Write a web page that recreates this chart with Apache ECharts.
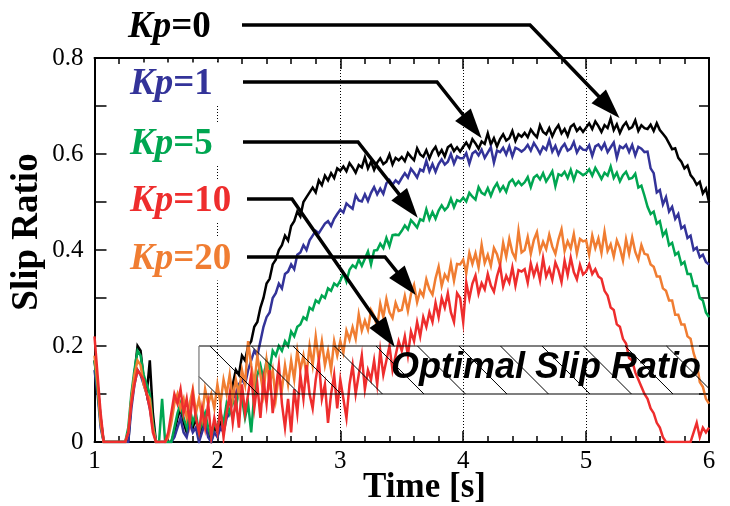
<!DOCTYPE html>
<html><head><meta charset="utf-8">
<script src="https://cdn.jsdelivr.net/npm/echarts@6/dist/echarts.min.js"></script>
<style>html,body{margin:0;padding:0;background:#fff}#c{width:730px;height:506px}</style>
</head><body><div id="c"></div>
<script>
// ---------------- data ----------------
const time = [
1.000,1.025,1.050,1.075,1.100,1.125,1.150,1.175,1.200,1.225,1.250,1.275,1.300,1.325,1.350,1.375,1.400,1.425,1.450,1.475,
1.500,1.525,1.550,1.575,1.600,1.625,1.650,1.675,1.700,1.725,1.750,1.775,1.800,1.825,1.850,1.875,1.900,1.925,1.950,1.975,
2.000,2.025,2.050,2.075,2.100,2.125,2.150,2.175,2.200,2.225,2.250,2.275,2.300,2.325,2.350,2.375,2.400,2.425,2.450,2.475,
2.500,2.525,2.550,2.575,2.600,2.625,2.650,2.675,2.700,2.725,2.750,2.775,2.800,2.825,2.850,2.875,2.900,2.925,2.950,2.975,
3.000,3.025,3.050,3.075,3.100,3.125,3.150,3.175,3.200,3.225,3.250,3.275,3.300,3.325,3.350,3.375,3.400,3.425,3.450,3.475,
3.500,3.525,3.550,3.575,3.600,3.625,3.650,3.675,3.700,3.725,3.750,3.775,3.800,3.825,3.850,3.875,3.900,3.925,3.950,3.975,
4.000,4.025,4.050,4.075,4.100,4.125,4.150,4.175,4.200,4.225,4.250,4.275,4.300,4.325,4.350,4.375,4.400,4.425,4.450,4.475,
4.500,4.525,4.550,4.575,4.600,4.625,4.650,4.675,4.700,4.725,4.750,4.775,4.800,4.825,4.850,4.875,4.900,4.925,4.950,4.975,
5.000,5.025,5.050,5.075,5.100,5.125,5.150,5.175,5.200,5.225,5.250,5.275,5.300,5.325,5.350,5.375,5.400,5.425,5.450,5.475,
5.500,5.525,5.550,5.575,5.600,5.625,5.650,5.675,5.700,5.725,5.750,5.775,5.800,5.825,5.850,5.875,5.900,5.925,5.950,5.975,
6.000];

const kp0 = [
0.17,0.12,0.05,0.00,0,0,0,0,0,0,0,0,0.09,0.14,0.20,0.19,0.13,0.10,0.17,0.06,
0,0,0,0,0,0,0.02,0.05,0.07,0.04,0.02,0.06,0.03,0.05,0.01,0.03,0.05,0.02,0.00,0.03,
0.02,0.04,0.03,0.06,0.09,0.12,0.15,0.14,0.18,0.17,0.20,0.21,0.24,0.25,0.28,0.30,0.33,0.34,0.37,0.38,
0.40,0.41,0.43,0.42,0.45,0.46,0.48,0.47,0.50,0.51,0.52,0.53,0.52,0.545,0.535,0.555,0.545,0.56,0.55,0.57,
0.565,0.574,0.564,0.581,0.572,0.561,0.577,0.572,0.593,0.570,0.584,0.567,0.582,0.591,0.579,0.584,0.599,0.578,0.592,0.587,
0.594,0.585,0.602,0.594,0.587,0.612,0.599,0.594,0.608,0.591,0.606,0.615,0.598,0.608,0.595,0.614,0.619,0.606,0.614,0.605,
0.615,0.624,0.613,0.631,0.622,0.611,0.626,0.621,0.643,0.620,0.633,0.616,0.631,0.641,0.628,0.633,0.648,0.627,0.641,0.636,
0.644,0.635,0.651,0.642,0.635,0.660,0.646,0.641,0.654,0.637,0.651,0.660,0.643,0.652,0.638,0.657,0.662,0.648,0.655,0.646,
0.655,0.664,0.652,0.668,0.658,0.646,0.660,0.654,0.674,0.650,0.662,0.644,0.658,0.666,0.652,0.656,0.670,0.648,0.660,0.654,
0.652,0.661,0.648,0.664,0.650,0.642,0.634,0.622,0.610,0.612,0.592,0.584,0.570,0.576,0.556,0.548,0.536,0.542,0.518,0.528,
0.50];

const kp1 = [
0.15,0.10,0.03,0,0,0,0,0,0,0,0,0,0.07,0.12,0.15,0.14,0.12,0.10,0.07,0.03,
0,0,0,0,0,0,0.01,0.03,0.05,0.02,0.01,0.04,0.02,0.03,0.00,0.02,0.04,0.01,0.00,0.02,
0.01,0.03,0.02,0.05,0.06,0.09,0.10,0.12,0.13,0.12,0.15,0.17,0.19,0.18,0.21,0.24,0.26,0.27,0.30,0.31,
0.33,0.32,0.35,0.355,0.37,0.36,0.39,0.395,0.41,0.40,0.42,0.43,0.44,0.435,0.445,0.455,0.46,0.45,0.465,0.475,
0.484,0.478,0.497,0.491,0.486,0.514,0.503,0.501,0.516,0.502,0.519,0.531,0.516,0.528,0.517,0.539,0.546,0.536,0.545,0.539,
0.550,0.560,0.551,0.569,0.561,0.551,0.568,0.564,0.586,0.564,0.579,0.563,0.579,0.589,0.578,0.584,0.600,0.580,0.595,0.591,
0.591,0.602,0.580,0.601,0.606,0.597,0.609,0.592,0.603,0.614,0.582,0.607,0.604,0.613,0.599,0.616,0.595,0.613,0.610,0.605,
0.610,0.619,0.607,0.623,0.613,0.601,0.615,0.609,0.629,0.605,0.617,0.599,0.613,0.621,0.607,0.611,0.625,0.603,0.615,0.609,
0.608,0.618,0.596,0.616,0.620,0.610,0.622,0.604,0.614,0.624,0.592,0.616,0.612,0.619,0.604,0.619,0.597,0.615,0.611,0.604,
0.605,0.57,0.56,0.52,0.525,0.495,0.51,0.48,0.49,0.465,0.475,0.445,0.45,0.425,0.43,0.40,0.405,0.385,0.39,0.375,
0.37];

const kp5 = [
0.17,0.11,0.04,0,0,0,0,0,0,0,0,0.03,0.10,0.15,0.19,0.18,0.14,0.12,0.10,0.04,
0,0,0.09,0,0,0,0.03,0.06,0.08,0.05,0.03,0.07,0.04,0.06,0.02,0.04,0.06,0.03,0.01,0.04,
0.03,0.06,0.04,0.08,0.06,0.09,0.07,0.11,0.09,0.05,0.08,0.02,0.10,0.14,0.16,0.13,0.17,0.15,0.19,0.18,
0.20,0.19,0.21,0.20,0.23,0.22,0.24,0.245,0.26,0.255,0.28,0.275,0.295,0.29,0.305,0.30,0.32,0.315,0.33,0.325,
0.336,0.351,0.334,0.359,0.368,0.363,0.380,0.367,0.382,0.397,0.370,0.399,0.400,0.413,0.404,0.425,0.408,0.431,0.432,0.431,
0.440,0.451,0.443,0.462,0.455,0.447,0.464,0.461,0.485,0.464,0.479,0.465,0.482,0.493,0.483,0.490,0.507,0.489,0.504,0.501,
0.509,0.501,0.519,0.511,0.505,0.531,0.519,0.515,0.529,0.513,0.529,0.539,0.523,0.533,0.521,0.541,0.547,0.535,0.543,0.535,
0.541,0.552,0.531,0.551,0.556,0.547,0.560,0.543,0.553,0.564,0.533,0.558,0.555,0.563,0.550,0.567,0.546,0.565,0.561,0.556,
0.560,0.568,0.555,0.571,0.560,0.548,0.561,0.555,0.574,0.550,0.561,0.543,0.556,0.563,0.548,0.550,0.559,0.530,0.534,0.513,
0.49,0.475,0.48,0.455,0.46,0.43,0.44,0.41,0.415,0.39,0.395,0.37,0.375,0.35,0.35,0.325,0.325,0.30,0.295,0.27,
0.26];

const kp10 = [
0.22,0.14,0.06,0,0,0,0,0,0,0,0,0.02,0.08,0.12,0.15,0.14,0.13,0.10,0.07,0.02,
0,0,0,0,0.02,0.06,0.10,0.08,0.11,0.06,0.09,0.04,0.10,0.05,0.02,0.07,0.03,0.08,0.01,0.05,
0.02,0.07,0.01,0.06,0.10,0.04,0.09,0.03,0.12,0.06,0.10,0.14,0.07,0.12,0.05,0.13,0.08,0.15,0.06,0.11,
0.16,0.08,0.03,0.09,0.02,0.11,0.06,0.14,0.09,0.16,0.10,0.07,0.13,0.17,0.09,0.12,0.04,0.10,0.14,0.07,
0.13,0.09,0.05,0.12,0.16,0.10,0.14,0.18,0.11,0.15,0.13,0.17,0.12,0.19,0.14,0.17,0.20,0.15,0.18,0.21,
0.19,0.22,0.18,0.23,0.21,0.25,0.22,0.26,0.24,0.27,0.25,0.29,0.26,0.30,0.28,0.31,0.27,0.25,0.31,0.30,
0.250,0.332,0.299,0.330,0.347,0.309,0.331,0.318,0.350,0.326,0.313,0.345,0.367,0.324,0.346,0.332,0.364,0.326,0.358,0.355,
0.360,0.332,0.372,0.347,0.367,0.337,0.383,0.345,0.361,0.338,0.374,0.358,0.333,0.378,0.348,0.384,0.354,0.339,0.369,0.349,
0.355,0.37,0.35,0.36,0.345,0.34,0.315,0.305,0.28,0.275,0.245,0.24,0.215,0.205,0.175,0.17,0.145,0.13,0.115,0.10,
0.09,0.07,0.06,0.04,0.03,0.01,0,0,0,0,0,0,0,0,0,0.02,0.04,0.01,0.03,0.02,
0.03];

const kp20 = [
0.18,0.12,0.04,0,0,0,0,0,0,0,0,0.02,0.09,0.14,0.17,0.16,0.12,0.10,0.09,0.03,
0,0,0,0,0.01,0.04,0.08,0.10,0.07,0.09,0.05,0.08,0.11,0.06,0.09,0.05,0.11,0.08,0.10,0.07,
0.12,0.08,0.13,0.10,0.14,0.09,0.13,0.10,0.15,0.12,0.21,0.16,0.12,0.18,0.14,0.10,0.17,0.12,0.15,0.09,
0.14,0.11,0.16,0.12,0.17,0.13,0.19,0.15,0.18,0.14,0.20,0.16,0.22,0.17,0.21,0.16,0.19,0.15,0.21,0.18,
0.210,0.186,0.232,0.213,0.239,0.215,0.266,0.232,0.253,0.234,0.275,0.263,0.240,0.288,0.260,0.298,0.270,0.258,0.290,0.273,
0.275,0.304,0.273,0.308,0.327,0.291,0.315,0.304,0.339,0.318,0.307,0.341,0.365,0.325,0.349,0.338,0.372,0.336,0.371,0.370,
0.380,0.352,0.394,0.371,0.393,0.364,0.411,0.373,0.390,0.367,0.404,0.391,0.368,0.415,0.386,0.423,0.395,0.382,0.440,0.395,
0.400,0.427,0.392,0.421,0.437,0.397,0.417,0.402,0.432,0.407,0.392,0.422,0.443,0.398,0.418,0.403,0.433,0.393,0.423,0.418,
0.420,0.390,0.430,0.404,0.424,0.394,0.438,0.398,0.412,0.386,0.420,0.404,0.378,0.422,0.392,0.426,0.396,0.380,0.410,0.392,
0.39,0.37,0.365,0.345,0.345,0.32,0.315,0.295,0.295,0.265,0.265,0.245,0.245,0.22,0.215,0.185,0.165,0.125,0.115,0.09,
0.08];

const seriesNames = ['Kp=0','Kp=1','Kp=5','Kp=20','Kp=10'];
const seriesData  = [kp0, kp1, kp5, kp20, kp10];
const seriesColors = ['#000000','#333399','#00a651','#f07d32','#ee2d2d'];
const labelValues = ['0','1','5','10','20'];
const labelColors = ['#000000','#333399','#00a651','#ee2d2d','#f07d32'];
const xTicks = [1,2,3,4,5,6];
const yTicks = [0,0.2,0.4,0.6,0.8];
const optimalBand = [1.85, 6, 0.1, 0.2]; // x from, x to, y from, y to
const bandText = 'Optimal Slip Ratio';
// arrow tips in data units, for Kp=0,1,5,10,20
const arrowTips = [[5.272,0.675],[4.150,0.633],[3.630,0.467],[3.443,0.198],[3.614,0.306]];

// ---------------- chart ----------------
const serif = '"Liberation Serif","Times New Roman",serif';
const sans = '"Liberation Sans",Arial,sans-serif';
const chart = echarts.init(document.getElementById('c'), null, {renderer:'canvas'});
const pair = arr => time.map((t,i)=>[t, arr[i]]);

const axisLine = {show:true, onZero:false, lineStyle:{color:'#000', width:2}};
const tickStyle = {color:'#000', width:1.5};

const option = {
  animation:false,
  backgroundColor:'#fff',
  grid:{left:94.5, right:21, top:58, bottom:64, containLabel:false},
  xAxis:[
    {type:'value', min:xTicks[0], max:xTicks[xTicks.length-1], interval:1, position:'bottom',
     axisLine:axisLine,
     axisTick:{show:true, inside:true, length:11, lineStyle:tickStyle},
     minorTick:{show:true, splitNumber:5, length:6, lineStyle:tickStyle},
     axisLabel:{color:'#000', fontFamily:serif, fontSize:25, margin:7},
     splitLine:{show:true, lineStyle:{type:[1,2], color:'#000', width:1}}},
    {type:'value', min:xTicks[0], max:xTicks[xTicks.length-1], interval:1, position:'top',
     axisLine:axisLine,
     axisTick:{show:true, inside:true, length:11, lineStyle:tickStyle},
     minorTick:{show:true, splitNumber:5, length:6, lineStyle:tickStyle},
     axisLabel:{show:false}, splitLine:{show:false}}
  ],
  yAxis:[
    {type:'value', min:yTicks[0], max:yTicks[yTicks.length-1], interval:0.2, position:'left',
     axisLine:axisLine,
     axisTick:{show:true, inside:true, length:12, lineStyle:tickStyle},
     minorTick:{show:true, splitNumber:2, length:12, lineStyle:tickStyle},
     axisLabel:{color:'#000', fontFamily:serif, fontSize:25, margin:11,
       formatter:v => Math.abs(v)<1e-9 ? '0' : v.toFixed(1)},
     splitLine:{show:false}},
    {type:'value', min:yTicks[0], max:yTicks[yTicks.length-1], interval:0.2, position:'right',
     axisLine:axisLine,
     axisTick:{show:true, inside:true, length:10, lineStyle:tickStyle},
     minorTick:{show:true, splitNumber:2, length:10, lineStyle:tickStyle},
     axisLabel:{show:false}, splitLine:{show:false}}
  ],
  series: seriesData.map((arr,k)=>({
    name:seriesNames[k], type:'line', data:pair(arr), showSymbol:false, symbol:'none',
    xAxisIndex:0, yAxisIndex:0, z:2+k*0.01, silent:true,
    lineStyle:{color:seriesColors[k], width:2.5, join:'miter'}, clip:true
  })).concat([{
    type:'custom', name:'band', data:[optimalBand], z:5, silent:true, clip:false,
    renderItem:(params, api)=>{
      const tl = api.coord([api.value(0), api.value(3)]);
      const br = api.coord([api.value(1), api.value(2)]);
      const x0=tl[0], y0=tl[1], x1=br[0], y1=br[1], h=y1-y0;
      const children = [];
      const sp = 41.5;
      for (let a = x0 + 11 - sp; a < x1; a += sp) {
        let sx=a, sy=y0, ex=a+h, ey=y1;
        if (sx < x0) { sy = y0 + (x0-sx); sx = x0; }
        if (ex > x1) { ey = y1 - (ex-x1); ex = x1; }
        if (sx < ex) children.push({type:'line', shape:{x1:sx,y1:sy,x2:ex,y2:ey}, style:{stroke:'#000', lineWidth:1}});
      }
      children.push({type:'line', shape:{x1:x0,y1:y0,x2:x1,y2:y0}, style:{stroke:'#000', lineWidth:1.2}});
      children.push({type:'line', shape:{x1:x0,y1:y1,x2:x1,y2:y1}, style:{stroke:'#000', lineWidth:1.2}});
      children.push({type:'line', shape:{x1:x0,y1:y0,x2:x0,y2:y1}, style:{stroke:'#777', lineWidth:1.2}});
      return {type:'group', children};
    }
  }])
};
chart.setOption(option);

// ---------------- annotations ----------------
const labelPos = [[128,27],[130,84],[130,144],[130,201],[130,259]];
const arrowStart = [[242,25],[243,82],[243,142],[247,199],[247,257]];
const arrowBend  = [[530,25],[437,82],[358,142],[292,199],[385,257]];

const graphics = [];
labelValues.forEach((v,k)=>{
  graphics.push({type:'text', x:labelPos[k][0], y:labelPos[k][1], z:100,
    style:{text:'{i|Kp}{b|=' + v + '}', align:'left', verticalAlign:'middle',
      backgroundColor:'#fff', padding:[3,14,3,0],
      rich:{
        i:{fontFamily:serif, fontStyle:'italic', fontWeight:'bold', fontSize:37, fill:labelColors[k], color:labelColors[k]},
        b:{fontFamily:serif, fontWeight:'bold', fontSize:37, fill:labelColors[k], color:labelColors[k]}
      }}});
  const tip = chart.convertToPixel({xAxisIndex:0, yAxisIndex:0}, arrowTips[k]);
  const b = arrowBend[k];
  const dx = tip[0]-b[0], dy = tip[1]-b[1], L = Math.hypot(dx,dy);
  const ux = dx/L, uy = dy/L, hl = 30, hw = 10;
  const base = [tip[0]-ux*hl, tip[1]-uy*hl];
  graphics.push({type:'polyline', z:90, shape:{points:[arrowStart[k], b, [base[0]+ux*2, base[1]+uy*2]]},
    style:{stroke:'#000', lineWidth:3.5, fill:null, lineJoin:'miter'}});
  graphics.push({type:'polygon', z:91, shape:{points:[tip, [base[0]-uy*hw, base[1]+ux*hw], [base[0]+uy*hw, base[1]-ux*hw]]},
    style:{fill:'#000', stroke:null}});
});
const bandMid = chart.convertToPixel({xAxisIndex:0, yAxisIndex:0}, [0, 0.15]);
graphics.push({type:'text', x:546, y:bandMid[1]-2, z:95,
  style:{text:bandText, align:'center', verticalAlign:'middle', fill:'#000',
    font:'italic bold 36px ' + sans}});
graphics.push({type:'text', x:424.5, y:488, z:95,
  style:{text:'Time [s]', align:'center', verticalAlign:'middle', fill:'#000',
    font:'bold 35px ' + serif}});
graphics.push({type:'text', x:27, y:232, rotation:Math.PI/2, z:95,
  style:{text:'Slip Ratio', align:'center', verticalAlign:'middle', fill:'#000',
    font:'bold 37px ' + serif}});
chart.setOption({graphic:graphics});
</script>
</body></html>
